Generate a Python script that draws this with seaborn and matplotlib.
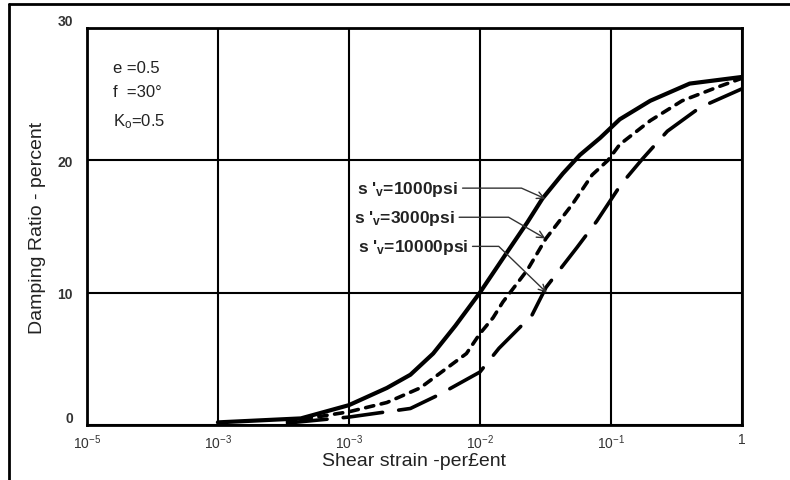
import matplotlib
matplotlib.use("Agg")
import matplotlib.pyplot as plt
from matplotlib.lines import Line2D
import pandas as pd
import seaborn as sns

# Shear strain (percent) and damping ratio (percent)
strain_1000 = [1.0e-4, 4.3e-4, 1.0e-3, 1.95e-3, 2.95e-3, 4.4e-3, 6.5e-3, 1.0e-2, 1.6e-2,
               2.3e-2, 3.0e-2, 4.3e-2, 5.8e-2, 8.3e-2, 1.17e-1, 2.0e-1, 4.0e-1, 1.0]
damping_1000 = [0.2, 0.5, 1.5, 2.8, 3.8, 5.4, 7.5, 10.0, 13.0,
                15.3, 17.1, 19.0, 20.4, 21.7, 23.1, 24.5, 25.8, 26.3]

strain_3000 = [3.4e-4, 1.0e-3, 1.95e-3, 3.5e-3, 7.9e-3, 1.0e-2, 1.26e-2, 1.5e-2, 2.3e-2,
               3.2e-2, 5.1e-2, 7.2e-2, 9.5e-2, 1.17e-1, 2.0e-1, 3.5e-1, 6.8e-1, 1.0]
damping_3000 = [0.25, 1.0, 1.7, 2.8, 5.4, 6.9, 8.1, 9.3, 11.7,
                14.1, 16.7, 18.9, 20.0, 21.2, 23.0, 24.5, 25.6, 26.2]

strain_10000 = [3.4e-4, 1.0e-3, 2.95e-3, 4.9e-3, 1.0e-2, 1.4e-2, 2.5e-2, 3.2e-2,
                5.5e-2, 7.8e-2, 1.2e-1, 1.74e-1, 2.7e-1, 4.8e-1, 1.0]
damping_10000 = [0.15, 0.6, 1.25, 2.3, 4.0, 5.8, 8.3, 10.4,
                 13.4, 15.4, 18.2, 20.1, 22.2, 24.0, 25.4]

series_labels = [r"s '$_{\mathregular{v}}$=1000psi",
                 r"s '$_{\mathregular{v}}$=3000psi",
                 r"s '$_{\mathregular{v}}$=10000psi"]

x_ticks = [1e-5, 1e-4, 1e-3, 1e-2, 1e-1, 1]
x_tick_labels = [r"$10^{-5}$", r"$10^{-3}$", r"$10^{-3}$", r"$10^{-2}$", r"$10^{-1}$", "1"]
y_ticks = [0, 10, 20, 30]
params_text = ["e =0.5", "f  =30°", "K$_{\\mathregular{o}}$=0.5"]


def main():
    sns.set_style("white")
    plt.rcParams["font.family"] = ["Liberation Sans", "DejaVu Sans"]
    plt.rcParams["mathtext.fontset"] = "custom"
    plt.rcParams["mathtext.rm"] = "Liberation Sans"
    plt.rcParams["mathtext.it"] = "Liberation Sans"

    curves = [
        (strain_1000, damping_1000, "", 3.0),
        (strain_3000, damping_3000, (2.3, 2.1), 2.6),
        (strain_10000, damping_10000, (11, 4.5), 2.6),
    ]

    fig = plt.figure(figsize=(7.9, 4.81), dpi=100)
    ax = fig.add_axes([0.110, 0.1143, 0.829, 0.8254])

    for i, (xs, ys, dash, lw) in enumerate(curves):
        df = pd.DataFrame({"strain": xs, "damping": ys, "s": series_labels[i]})
        sns.lineplot(data=df, x="strain", y="damping", ax=ax, color="black",
                     linewidth=lw, sort=False, estimator=None, legend=False)
        line = ax.lines[-1]
        line.set_solid_capstyle("round")
        line.set_solid_joinstyle("round")
        line.set_dash_capstyle("round")
        if dash:
            line.set_dashes(dash)

    ax.set_xscale("log")
    ax.set_xlim(1e-5, 1)
    ax.set_ylim(0, 30)
    ax.set_xticks(x_ticks)
    ax.set_xticklabels(x_tick_labels)
    ax.minorticks_off()
    ax.set_yticks(y_ticks)
    ax.tick_params(length=0, labelsize=10, labelcolor="#333333")
    ax.tick_params(axis="x", pad=5)
    ax.tick_params(axis="y", pad=10)
    for t in ax.get_yticklabels():
        t.set_fontweight("bold")
        if t.get_text() in ("0", "30"):
            t.set_verticalalignment("bottom")
    ax.grid(True, color="black", linewidth=1.5)
    for sp in ax.spines.values():
        sp.set_color("black")
        sp.set_linewidth(2.0)

    ax.set_xlabel("Shear strain -per£ent", fontsize=14, color="#222222", labelpad=1)
    ax.set_ylabel("Damping Ratio - percent", fontsize=14, color="#222222", labelpad=8)

    # stress annotations with leader arrows
    text_pos = [(6.8e-3, 17.9), (6.4e-3, 15.7), (8.1e-3, 13.5)]
    tip_pos = [(3.16e-2, 17.1), (3.16e-2, 14.1), (3.24e-2, 10.0)]
    angles = [-24, -30, -44]
    for lab, tp, tip, ang in zip(series_labels, text_pos, tip_pos, angles):
        ax.annotate(lab, xy=tip, xytext=tp, ha="right", va="center",
                    fontsize=12.5, fontweight="bold", color="#222222",
                    arrowprops=dict(arrowstyle="->", color="#333333", lw=1.0,
                                    shrinkA=1, shrinkB=0,
                                    connectionstyle=f"angle,angleA=0,angleB={ang},rad=0"))

    for txt, yy in zip(params_text, [0.90, 0.839, 0.766]):
        ax.text(0.04, yy, txt, transform=ax.transAxes, fontsize=12,
                color="#222222", va="center", ha="left")

    # frame lines around figure (top and left)
    fig.add_artist(Line2D([0.011, 1.0], [0.99, 0.99], transform=fig.transFigure,
                          color="black", linewidth=2))
    fig.add_artist(Line2D([0.011, 0.011], [0.0, 0.99], transform=fig.transFigure,
                          color="black", linewidth=2))

    fig.savefig("out.png", dpi=100)
    plt.close(fig)


if __name__ == "__main__":
    main()
